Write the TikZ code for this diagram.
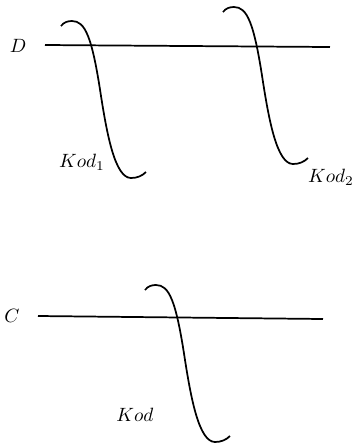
\documentclass[tikz,border=0pt]{standalone}
\begin{document}
\begin{tikzpicture}[x=0.52pt,y=-0.52pt,
  stroke/.style={line width=0.9pt,black},
  lbl/.style={inner sep=0pt,font=\normalsize},
  hook/.pic={\draw[stroke] (0,0) .. controls (3,-4) and (7,-5) .. (11,-5)
      .. controls (24,-5) and (31,10) .. (40,70)
      .. controls (46,108) and (54,152) .. (70,152)
      .. controls (76,152) and (81,150) .. (85,146);}]
\useasboundingbox (0,0) rectangle (353,446);
% top part
\node[lbl] (D) at (18,46) {$D$};
\coordinate (d1) at (45,45);
\coordinate (d2) at (330,47);
\draw[stroke] (d1) -- (d2);
\pic at (61,26) {hook};
\pic at (223,12) {hook};
\node[lbl] (k1) at (82,162) {$Kod_1$};
\node[lbl] (k2) at (331,177) {$Kod_2$};
% bottom part
\node[lbl] (C) at (12,316) {$C$};
\coordinate (c1) at (38,316);
\coordinate (c2) at (323,319);
\draw[stroke] (c1) -- (c2);
\pic at (145,290) {hook};
\node[lbl] (k) at (135,415) {$Kod$};
\end{tikzpicture}
\end{document}
